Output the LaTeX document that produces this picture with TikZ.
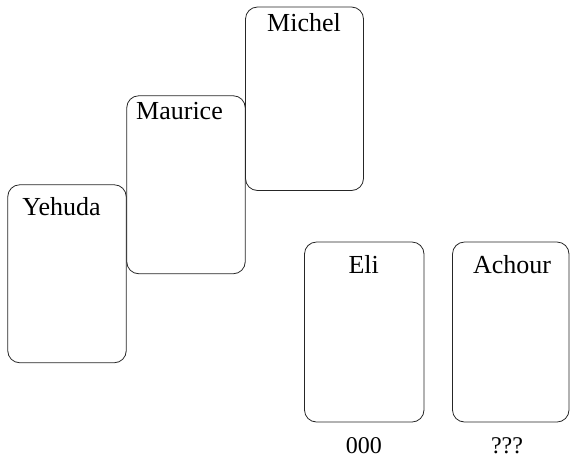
\documentclass[tikz,border=0pt]{standalone}
\usepackage{fontspec}
\setmainfont{Liberation Serif}
\begin{document}
\begin{tikzpicture}[x=1pt,y=-1pt,
  card/.style={draw=black!85, line width=0.8pt, rounded corners=12pt,
    rectangle, inner sep=0pt, minimum width=118.5pt, minimum height=178pt},
  cardname/.style={anchor=base, inner sep=0pt, font=\fontsize{26}{30}\selectfont},
  score/.style={anchor=base, inner sep=0pt, text depth=0pt,
    font=\fontsize{24}{28}\selectfont}]
  \useasboundingbox (0,0) rectangle (570,459);
  % the five cards
  \node[card] (cYehuda)  at (67,273.75)    {};
  \node[card] (cMaurice) at (186,184.75)   {};
  \node[card, minimum width=118pt, minimum height=183.5pt] (cMichel) at (304.5,98.75) {};
  \node[card, minimum width=119.5pt, minimum height=180pt] (cEli) at (364.25,332) {};
  \node[card, minimum width=116.5pt, minimum height=180pt] (cAchour) at (510.75,332) {};
  % names on the cards
  \node[cardname] (yehuda)  at (61.5,215)  {Yehuda};
  \node[cardname] (maurice) at (179.5,119) {Maurice};
  \node[cardname] (michel)  at (304,31)    {Michel};
  \node[cardname] (eli)     at (363.7,273) {Eli};
  \node[cardname] (achour)  at (512,273)   {Achour};
  % scores below the cards
  \node[score] (eliscore)    at (363.8,453.5) {000};
  \node[score] (achourscore) at (507,453.5)   {???};
\end{tikzpicture}
\end{document}
